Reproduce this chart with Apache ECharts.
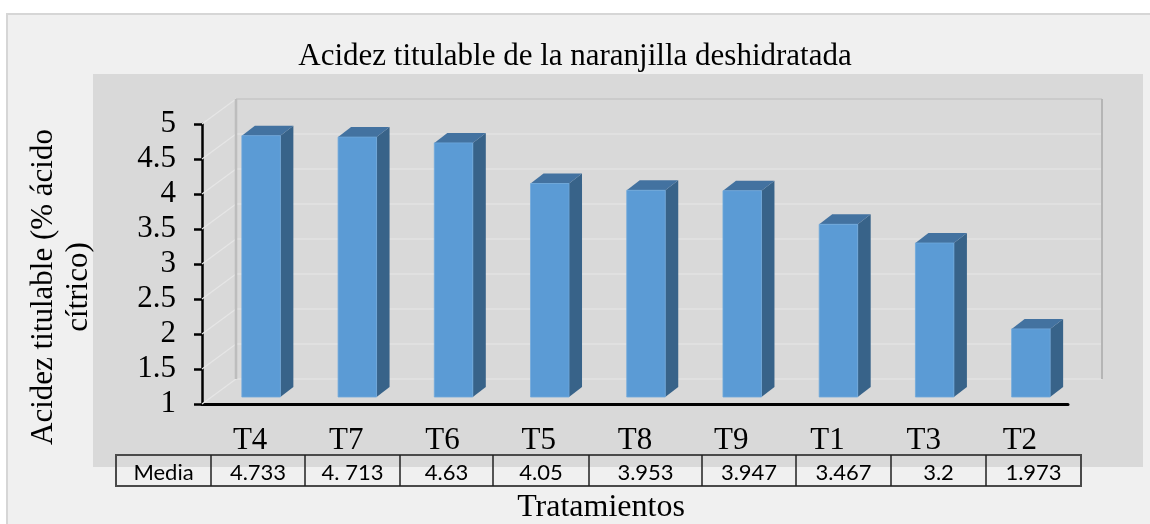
<!DOCTYPE html>
<html>
<head>
<meta charset="utf-8">
<title>Acidez titulable</title>
<script src="https://cdn.jsdelivr.net/npm/echarts@6/dist/echarts.min.js"></script>
<style>
  html, body { margin: 0; padding: 0; background: #fff; }
  #main { width: 1150px; height: 524px; }
</style>
</head>
<body>
<div id="main"></div>
<script>
// datos del gráfico
var tratamientos = ['T4', 'T7', 'T6', 'T5', 'T8', 'T9', 'T1', 'T3', 'T2'];
var medias = [4.733, 4.713, 4.63, 4.05, 3.953, 3.947, 3.467, 3.2, 1.973];
var mediasTexto = ['4.733', '4. 713', '4.63', '4.05', '3.953', '3.947', '3.467', '3.2', '1.973'];
var filaNombre = 'Media';
var yMin = 1, yMax = 5, yStep = 0.5;

// efecto 3D (px)
var DEPTH_X = 34, DEPTH_Y = -25;      // profundidad de la pared del fondo
var BAR_OFF_X = 11, BAR_OFF_Y = -7;   // plano frontal de la barra
var BAR_D_X = 13, BAR_D_Y = -10;      // profundidad de la barra
var tableEdges = [116, 211, 305, 400, 493, 589, 702, 796, 891, 986, 1081];
var tableTop = 455, tableBottom = 486;

var serif = '"Liberation Serif", "Times New Roman", serif';

function renderWalls(params, api) {
  var children = [];
  var half = api.size([1, 0])[0] / 2;
  var n = tratamientos.length;
  for (var v = yMin; v <= yMax + 1e-9; v += yStep) {
    var a = api.coord([0, v]);
    var b = api.coord([n - 1, v]);
    var x0 = a[0] - half, x1 = b[0] + half;
    // linea lateral (pared izquierda)
    children.push({
      type: 'line',
      shape: { x1: x0, y1: a[1], x2: x0 + DEPTH_X, y2: a[1] + DEPTH_Y },
      style: { stroke: '#e6e6e6', lineWidth: 1.2 }
    });
    // linea de la pared del fondo
    children.push({
      type: 'line',
      shape: { x1: x0 + DEPTH_X, y1: a[1] + DEPTH_Y, x2: x1 + DEPTH_X, y2: a[1] + DEPTH_Y },
      style: { stroke: v >= yMax ? '#cbcbcb' : '#e2e2e2', lineWidth: v >= yMax ? 2 : 1.5 }
    });
  }
  var top = api.coord([0, yMax]), bot = api.coord([n - 1, yMin]);
  var xl = top[0] - half + DEPTH_X, xr = bot[0] + half + DEPTH_X;
  children.push({
    type: 'line',
    shape: { x1: xl, y1: top[1] + DEPTH_Y, x2: xl, y2: bot[1] + DEPTH_Y },
    style: { stroke: '#bdbdbd', lineWidth: 2.5 }
  });
  children.push({
    type: 'line',
    shape: { x1: xr, y1: top[1] + DEPTH_Y, x2: xr, y2: bot[1] + DEPTH_Y },
    style: { stroke: '#b5b5b5', lineWidth: 2 }
  });
  return { type: 'group', children: children };
}

function renderBar(params, api) {
  var idx = api.value(0);
  var val = api.value(1);
  var top = api.coord([idx, val]);
  var base = api.coord([idx, yMin]);
  var w = api.size([1, 0])[0] * 0.4;
  var x = top[0] + BAR_OFF_X - w / 2;
  var yT = top[1] + BAR_OFF_Y;
  var yB = base[1] + BAR_OFF_Y;
  return {
    type: 'group',
    children: [
      {
        type: 'polygon',
        shape: { points: [[x + w, yT], [x + w + BAR_D_X, yT + BAR_D_Y], [x + w + BAR_D_X, yB + BAR_D_Y], [x + w, yB]] },
        style: { fill: '#386389' }
      },
      {
        type: 'polygon',
        shape: { points: [[x, yT], [x + BAR_D_X, yT + BAR_D_Y], [x + w + BAR_D_X, yT + BAR_D_Y], [x + w, yT]] },
        style: { fill: '#4372a0' }
      },
      {
        type: 'rect',
        shape: { x: x, y: yT, width: w, height: yB - yT },
        style: { fill: '#5b9bd5', stroke: '#6fa8dc', lineWidth: 0.8 }
      }
    ]
  };
}

// tabla de medias
var tableGraphics = [];
tableGraphics.push({
  type: 'rect', z: 10,
  shape: { x: tableEdges[0], y: tableTop, width: tableEdges[tableEdges.length - 1] - tableEdges[0], height: tableBottom - tableTop },
  style: { fill: 'transparent', stroke: '#4a4a4a', lineWidth: 2 }
});
var cellTexts = [filaNombre].concat(mediasTexto);
for (var i = 0; i < cellTexts.length; i++) {
  if (i > 0) {
    tableGraphics.push({
      type: 'line', z: 10,
      shape: { x1: tableEdges[i], y1: tableTop, x2: tableEdges[i], y2: tableBottom },
      style: { stroke: '#222', lineWidth: 1.5 }
    });
  }
  tableGraphics.push({
    type: 'text', z: 10,
    x: (tableEdges[i] + tableEdges[i + 1]) / 2,
    y: (tableTop + tableBottom) / 2 + 2,
    style: {
      text: cellTexts[i], fill: '#000',
      font: '22px Lato, "Open Sans", sans-serif',
      textAlign: 'center', textVerticalAlign: 'middle'
    }
  });
}

var chart = echarts.init(document.getElementById('main'));
chart.setOption({
  animation: false,
  backgroundColor: '#ffffff',
  title: {
    text: 'Acidez titulable de la naranjilla deshidratada',
    left: 'center',
    top: 36,
    textStyle: { fontFamily: serif, fontSize: 31, fontWeight: 'normal', color: '#000' }
  },
  graphic: [
    {
      type: 'rect', z: -10, silent: true,
      shape: { x: 7, y: 14, width: 1200, height: 560 },
      style: { fill: '#f0f0f0', stroke: '#d6d6d6', lineWidth: 2 }
    },
    {
      type: 'rect', z: -9, silent: true,
      shape: { x: 93, y: 74, width: 1050, height: 393 },
      style: { fill: '#d9d9d9' }
    },
    {
      type: 'text', z: 10,
      x: 61, y: 287, rotation: Math.PI / 2,
      style: {
        text: 'Acidez titulable (% ácido\ncítrico)',
        font: '31px ' + serif, fill: '#000',
        textAlign: 'center', textVerticalAlign: 'middle', lineHeight: 35
      }
    },
    {
      type: 'text', z: 10,
      x: 601, y: 508,
      style: {
        text: 'Tratamientos',
        font: '32px ' + serif, fill: '#000',
        textAlign: 'center', textVerticalAlign: 'middle'
      }
    }
  ].concat(tableGraphics),
  grid: {
    left: 202, right: 82, top: 124, bottom: 120,
    outerBoundsMode: 'none'
  },
  xAxis: {
    type: 'category',
    data: tratamientos,
    axisLine: { lineStyle: { color: '#000', width: 3 } },
    axisTick: { show: false },
    axisLabel: { margin: 21, color: '#000', fontFamily: serif, fontSize: 31 },
    splitLine: { show: false }
  },
  yAxis: {
    type: 'value',
    min: yMin, max: yMax, interval: yStep,
    axisLine: { show: true, lineStyle: { color: '#000', width: 2.5 } },
    axisTick: { show: true, length: 8, lineStyle: { color: '#000', width: 2.5 } },
    axisLabel: { margin: 26, color: '#000', fontFamily: serif, fontSize: 31 },
    splitLine: { show: false }
  },
  series: [
    {
      type: 'custom',
      name: 'paredes',
      silent: true,
      clip: false,
      z: 1,
      renderItem: renderWalls,
      data: [[0, yMin]]
    },
    {
      type: 'custom',
      name: 'Media',
      clip: false,
      z: 2,
      renderItem: renderBar,
      encode: { x: 0, y: 1 },
      data: medias.map(function (v, i) { return [i, v]; })
    }
  ]
});
</script>
</body>
</html>
